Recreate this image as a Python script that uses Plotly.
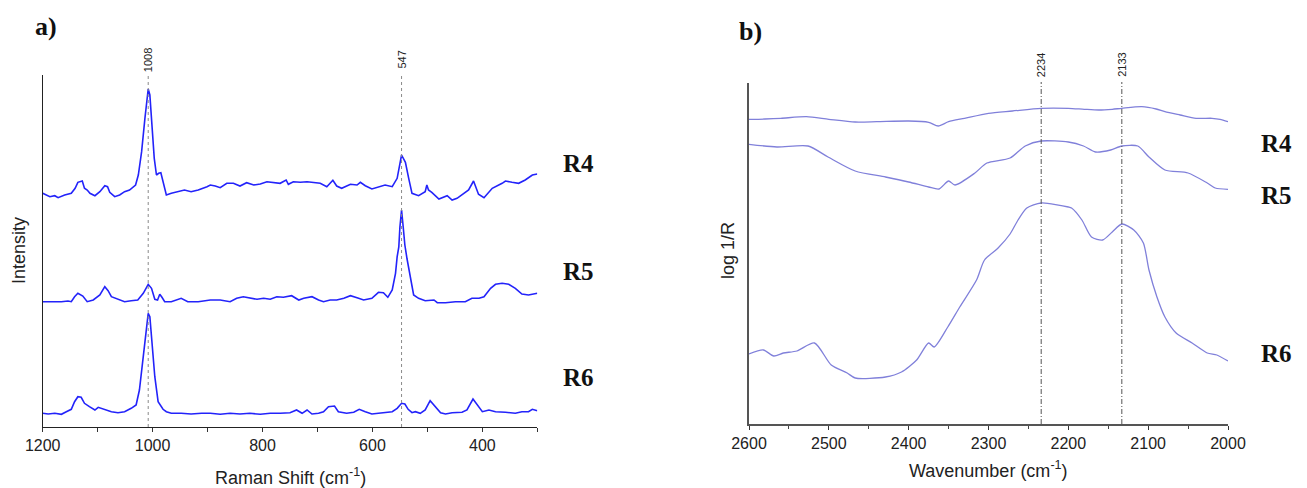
import plotly.graph_objects as go

W, H = 1307, 488
OFF = 8  # page body margin in the browser
WF, HF = W - OFF, H - OFF

# ---------------- Panel a) Raman spectra (Intensity, arbitrary units) ----------------
r4_x = [1200,1193,1187,1178,1172,1160,1148,1141,1136,1128,
        1124,1119,1114,1105,1096,1087,1082,1078,1069,1060,
        1051,1042,1036,1031,1026,1020,1014,1010,1008,1005,
        1001,997,993,989,985,981,975,966,954,942,
        930,917,901,895,886,877,865,853,841,829,
        816,804,792,780,768,757,753,744,731,719,
        707,695,683,672,665,656,640,628,622,613,
        601,589,577,564,555,547,540,534,528,516,
        504,501,498,492,479,464,455,446,437,425,
        416,407,397,382,364,358,346,334,322,309,
        300]
r4_y = [233.7,232,230.3,231.3,229.3,232,233.7,238.7,244.7,246,
        238.7,237,233.7,231.3,235.3,241.3,240.3,234.7,230.3,232,
        235.3,237,240.3,242,252,275.3,308.7,332,338,332,
        298.7,268.7,252,253.7,254.3,245.3,232,233.7,235.3,237,
        235.3,237,240.3,242,241,239.3,243.7,243.7,241,244.3,
        242,243,245.3,244.3,243.7,247,242.7,245.3,244.7,245.3,
        244.7,243.7,240.3,246.7,241,238.7,242.7,242,244.7,241.3,
        238,240.3,242,240.3,248.7,272,264.7,248.7,233.7,231.3,
        235.3,242,237,234.7,228,231.3,227,228.7,232,237,
        246,232.7,229.3,238.7,243.7,246,244.7,243.7,247,252,
        253]

r5_x = [1200,1190,1178,1166,1154,1148,1142,1136,1127,1119,
        1108,1096,1087,1081,1075,1063,1051,1039,1027,1017,
        1011,1008,1002,996,991,987,983,978,966,948,
        936,917,895,877,859,847,835,822,810,798,
        786,774,762,747,734,725,710,698,689,677,
        665,652,640,628,616,601,589,580,572,564,
        558,555,552,550,547,544,541,537,531,525,
        516,504,488,482,467,449,431,419,406,397,
        385,376,364,352,340,328,316,300]
r5_y = [125.3,125.3,124.7,125.3,126,125.3,130.3,133.7,131,125.3,
        127,132,140.3,136.3,130.3,127.7,125.3,126.3,127,133.7,
        139.7,142.7,138.7,127.7,127,132.7,129.7,125.3,125.3,128.7,
        125.3,125.3,127,127,125.3,128.7,130.3,128.7,127.7,128.7,
        127.7,130.3,129.7,131.3,127,128.7,130.3,127,125.3,127,
        127,128.7,131.3,129.3,127,128.7,134.7,134.3,129.7,137,
        153.7,170.3,180,200,217,200,182,168,150.3,132,
        128.7,126.3,127,124.3,124.3,125.3,125.3,128.7,128.7,130.3,
        138.7,142.7,143.7,142.7,138.7,133,132,133.7]

r6_x = [1200,1190,1178,1166,1157,1148,1142,1136,1130,1124,
        1115,1105,1099,1087,1075,1063,1051,1039,1030,1024,
        1017,1011,1008,1005,1001,996,990,981,975,966,
        948,930,911,895,877,859,841,823,804,786,
        768,750,738,728,719,710,698,689,680,669,
        662,647,634,624,613,601,589,577,564,555,
        547,541,535,528,522,513,504,495,485,476,
        467,455,437,428,417,410,400,388,376,358,
        340,328,316,309,300]
r6_y = [13.7,13,13.7,12.7,15.3,17.7,25.3,30.3,29.7,23.7,
        20.3,17,19.7,17.7,15.3,14.3,15.3,18.7,22,37,
        70.3,100.3,113.7,110.3,83.7,50.3,25.3,17.7,15.3,13.7,
        13.7,13,13.7,13.7,12.7,13.7,13,13.7,12.7,13.7,
        13.7,14.3,17,13.7,17,13,13.7,15.3,20.3,21,
        15.3,13.7,14.7,17.7,15.3,13,13.7,14.3,15.3,18.7,
        23.7,23,17.7,14.3,15.3,13.7,17,26.3,20.3,14.3,
        13,14.3,14.7,17,28,23,15.3,17,15.3,14.7,
        13.7,15.3,15.3,17.7,16.3]

raman_peaks = [1008, 547]
raman_ticks = [1200, 1000, 800, 600, 400]
raman_minor = [1100, 900, 700, 500, 300]

# ---------------- Panel b) NIR spectra (log 1/R, arbitrary units) ----------------
b4_x = [2600,2580,2560,2528,2500,2467,2440,2400,2375,2363,2350,2330,2300,2270,
        2234,2200,2180,2162,2145,2133,2108,2090,2079,2060,2040,2020,2010,2000]
b4_y = [304.7,305,305.7,307.3,304.7,302,302.3,303,301.7,298,302.3,305.7,310.7,313,
        315.7,315.7,314.7,314,314.7,315.7,317.3,315,312.3,309,305.7,305.7,304.7,302.3]

b5_x = [2600,2565,2526,2501,2467,2429,2400,2375,2362,2350,2342,2317,2302,2273,
        2254,2234,2200,2181,2166,2147,2133,2113,2099,2079,2050,2026,2016,2000]
b5_y = [279.7,277,278,267,253,247,242,237,235,243,239,251,261,266,
        278,283,282,278,272,274,278,278,267,254,251,241,236,234.7]

b6_x = [2600,2582,2569,2557,2540,2518,2497,2477,2467,2429,2409,2390,2375,2368,
        2351,2336,2315,2305,2288,2273,2263,2252,2234,2200,2196,2183,2171,2157,
        2145,2133,2118,2106,2099,2089,2079,2065,2045,2026,2014,2000]
b6_y = [70,74,68,71,73,81,59,51,46,47,52,64,81,77,
        97,117,144,164,176,190,204,216,221,217,216,204,187,184,
        192,200,194,181,154,127,107,91,81,71,69,63]

nir_peaks = [2234, 2133]
nir_ticks = [2600, 2500, 2400, 2300, 2200, 2100, 2000]
nir_minor = [2550, 2450, 2350, 2250, 2150, 2050]

series_labels = ["R4", "R5", "R6"]


def fx(p):
    return (p - OFF) / WF


def fy(p):
    return 1 - (p - OFF) / HF


fig = go.Figure()

line_a = dict(color="rgb(35,35,250)", width=1.6)
for xs, ys in [(r4_x, r4_y), (r5_x, r5_y), (r6_x, r6_y)]:
    fig.add_trace(go.Scatter(x=xs, y=ys, mode="lines", line=line_a,
                             xaxis="x", yaxis="y", showlegend=False, hoverinfo="skip"))

line_b = dict(color="rgb(128,128,218)", width=1.3, shape="spline", smoothing=0.7)
for xs, ys in [(b4_x, b4_y), (b5_x, b5_y), (b6_x, b6_y)]:
    fig.add_trace(go.Scatter(x=xs, y=ys, mode="lines", line=line_b,
                             xaxis="x2", yaxis="y2", showlegend=False, hoverinfo="skip"))

tick_font = dict(family="Liberation Sans, Arial, sans-serif", size=16, color="#222")

common_x = dict(showgrid=False, zeroline=False, showline=True, ticks="outside",
                ticklen=4, tickwidth=1, tickcolor="#333", tickfont=tick_font,
                automargin=False)

fig.update_layout(
    template="none",
    width=WF, height=HF,
    margin=dict(l=0, r=0, t=0, b=0, pad=0),
    paper_bgcolor="white", plot_bgcolor="white",
    xaxis=dict(domain=[fx(42.7), fx(537.3)], range=[1200, 300], anchor="y",
               tickmode="array", tickvals=raman_ticks,
               linecolor="#222", linewidth=1.2,
               minor=dict(tickmode="array", tickvals=raman_minor,
                          ticks="outside", ticklen=4, tickcolor="#333", showgrid=False),
               **common_x),
    yaxis=dict(domain=[fy(427), fy(75)], range=[0, 352], anchor="x",
               showgrid=False, zeroline=False, showline=True, linecolor="#222",
               linewidth=1.2, showticklabels=False, ticks="", automargin=False),
    xaxis2=dict(domain=[fx(749), fx(1228)], range=[2600, 2000], anchor="y2",
                tickmode="array", tickvals=nir_ticks,
                linecolor="#555", linewidth=1.8,
                minor=dict(tickmode="array", tickvals=nir_minor,
                           ticks="outside", ticklen=3, tickcolor="#444", showgrid=False),
                **common_x),
    yaxis2=dict(domain=[fy(424), fy(83)], range=[0, 341], anchor="x2",
                showgrid=False, zeroline=False, showline=True, linecolor="#555",
                linewidth=1.8, showticklabels=False, ticks="", automargin=False),
)

shapes = []
annotations = []
for wn in raman_peaks:
    shapes.append(dict(type="line", xref="x", yref="paper", x0=wn, x1=wn,
                       y0=fy(427), y1=fy(75),
                       line=dict(color="#8a8a8a", width=1, dash="dot")))
    annotations.append(dict(text=str(wn), xref="x", yref="paper", x=wn, y=fy(60),
                            textangle=-90, showarrow=False, xanchor="center", yanchor="middle",
                            font=dict(family="Liberation Sans, Arial", size=11, color="#222")))
for wn in nir_peaks:
    shapes.append(dict(type="line", xref="x2", yref="paper", x0=wn, x1=wn,
                       y0=fy(424), y1=fy(82),
                       line=dict(color="#555", width=1, dash="5px,2px,1px,2px")))
    annotations.append(dict(text=str(wn), xref="x2", yref="paper", x=wn, y=fy(65),
                            textangle=-90, showarrow=False, xanchor="center", yanchor="middle",
                            font=dict(family="Liberation Sans, Arial", size=11, color="#222")))

title_font = dict(family="Liberation Sans, Arial, sans-serif", size=18, color="#222")
annotations += [
    dict(text="Raman Shift (cm<sup>-1</sup>)", x=fx(290), y=fy(476), xref="paper", yref="paper",
         showarrow=False, xanchor="center", yanchor="middle", font=title_font),
    dict(text="Intensity", x=fx(19), y=fy(251), xref="paper", yref="paper", textangle=-90,
         showarrow=False, xanchor="center", yanchor="middle", font=title_font),
    dict(text="Wavenumber (cm<sup>-1</sup>)", x=fx(988.5), y=fy(469), xref="paper", yref="paper",
         showarrow=False, xanchor="center", yanchor="middle", font=title_font),
    dict(text="log 1/R", x=fx(728), y=fy(251), xref="paper", yref="paper", textangle=-90,
         showarrow=False, xanchor="center", yanchor="middle", font=title_font),
]

serif = dict(family="Liberation Serif, DejaVu Serif, serif", size=25, color="#111")
panel_font = dict(family="Liberation Serif, DejaVu Serif, serif", size=26, color="#111")
annotations += [
    dict(text="<b>a)</b>", x=fx(46), y=fy(27), xref="paper", yref="paper",
         showarrow=False, xanchor="center", yanchor="middle", font=panel_font),
    dict(text="<b>b)</b>", x=fx(750), y=fy(31), xref="paper", yref="paper",
         showarrow=False, xanchor="center", yanchor="middle", font=panel_font),
]
for lab, ya in zip(series_labels, [164, 271, 377]):
    annotations.append(dict(text="<b>%s</b>" % lab, x=fx(578), y=fy(ya), xref="paper", yref="paper",
                            showarrow=False, xanchor="center", yanchor="middle", font=serif))
for lab, yb in zip(series_labels, [143, 195, 353]):
    annotations.append(dict(text="<b>%s</b>" % lab, x=fx(1276), y=fy(yb), xref="paper", yref="paper",
                            showarrow=False, xanchor="center", yanchor="middle", font=serif))

fig.update_layout(shapes=shapes, annotations=annotations)

fig.write_html("out.html")
